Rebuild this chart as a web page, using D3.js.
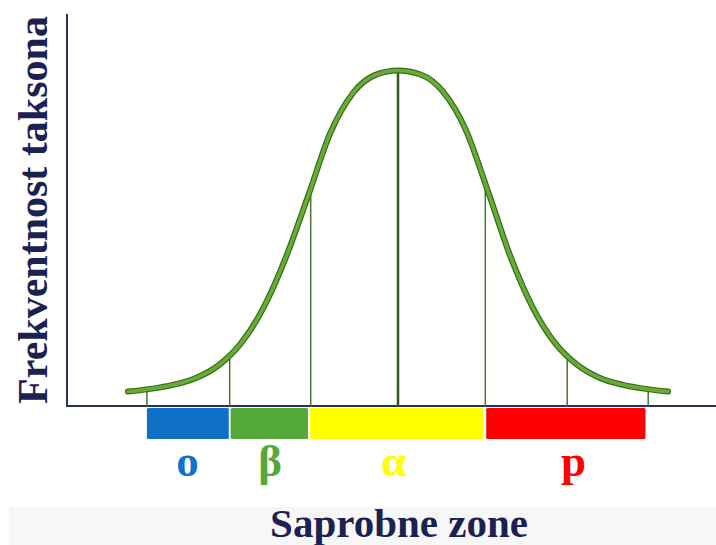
<!DOCTYPE html>
<html>
<head>
<meta charset="utf-8">
<script src="https://cdn.jsdelivr.net/npm/d3@7"></script>
<style>
  body { margin: 0; background: #fff; }
  text { font-family: "Liberation Serif", "Times New Roman", serif; font-weight: bold; }
</style>
</head>
<body>
<div id="chart"></div>
<script>
var W = 716, H = 545;

// curve (position on gradient, relative frequency)
var curveX = [-3.0, -2.75, -2.5, -2.25, -2.0, -1.75, -1.5, -1.25, -1.0, -0.75, -0.5, -0.25, 0, 0.25, 0.5, 0.75, 1.0, 1.25, 1.5, 1.75, 2.0, 2.25, 2.5, 2.75, 3.0];
var curveY = [0.043, 0.051, 0.063, 0.083, 0.120, 0.185, 0.290, 0.440, 0.625, 0.815, 0.933, 0.987, 1.0, 0.988, 0.937, 0.825, 0.640, 0.445, 0.292, 0.186, 0.121, 0.083, 0.063, 0.051, 0.043];

// vertical dividers
var lineX   = [-2.79, -1.87, -0.97, 0, 0.97, 1.88, 2.78];
var lineTop = [0.047, 0.146, 0.645, 1.0, 0.660, 0.146, 0.048];

// saprobic zones
var zoneNames  = ["o", "β", "α", "p"];
var zoneStart  = [-2.79, -1.86, -0.98, 0.98];
var zoneEnd    = [-1.88, -1.00, 0.95, 2.75];
var zoneColors = ["#1170c8", "#55a83a", "#ffff00", "#ff0000"];
var zoneLabelX = [-2.34, -1.42, -0.05, 1.95];

var xTitle = "Saprobne zone";
var yTitle = "Frekventnost taksona";

var x = d3.scaleLinear().domain([-3, 3]).range([128, 668]);
var y = d3.scaleLinear().domain([0, 1]).range([406, 70.5]);

var svg = d3.select("#chart")
  .append("svg")
    .attr("width", W)
    .attr("height", H);

// light band behind the x title
svg.append("rect")
  .attr("x", 9).attr("y", 507)
  .attr("width", W - 9).attr("height", H - 507)
  .attr("fill", "#f7f7f7");

// axes (no ticks)
svg.append("path")
  .attr("d", "M67,14 L67," + y(0) + " L" + W + "," + y(0))
  .attr("fill", "none")
  .attr("stroke", "#283163")
  .attr("stroke-width", 2);

// zone bars
svg.selectAll(".zone")
  .data(zoneNames)
  .enter().append("rect")
    .attr("class", "zone")
    .attr("x", function(d, i) { return x(zoneStart[i]); })
    .attr("y", 408)
    .attr("width", function(d, i) { return x(zoneEnd[i]) - x(zoneStart[i]); })
    .attr("height", 31)
    .attr("rx", 1.5)
    .attr("fill", function(d, i) { return zoneColors[i]; });

svg.selectAll(".zlabel")
  .data(zoneNames)
  .enter().append("text")
    .attr("class", "zlabel")
    .attr("x", function(d, i) { return x(zoneLabelX[i]); })
    .attr("y", 476)
    .attr("text-anchor", "middle")
    .attr("font-size", 45)
    .attr("fill", function(d, i) { return zoneColors[i]; })
    .text(function(d) { return d; });

// vertical dividers up to the curve
svg.selectAll(".vline")
  .data(lineX)
  .enter().append("line")
    .attr("class", "vline")
    .attr("x1", function(d) { return x(d); })
    .attr("x2", function(d) { return x(d); })
    .attr("y1", y(0))
    .attr("y2", function(d, i) { return y(lineTop[i]); })
    .attr("stroke", function(d) { return d === 0 ? "#2f5a1a" : "#47762b"; })
    .attr("stroke-width", function(d) { return d === 0 ? 2.5 : 1.5; });

// bell curve
var pts = curveX.map(function(v, i) { return [v, curveY[i]]; });
var line = d3.line()
  .x(function(d) { return x(d[0]); })
  .y(function(d) { return y(d[1]); })
  .curve(d3.curveMonotoneX);

svg.append("path")
  .datum(pts)
  .attr("fill", "none")
  .attr("stroke", "#3a6a1f")
  .attr("stroke-width", 6)
  .attr("stroke-linecap", "round")
  .attr("d", line);

svg.append("path")
  .datum(pts)
  .attr("fill", "none")
  .attr("stroke", "#65ad33")
  .attr("stroke-width", 3.6)
  .attr("stroke-linecap", "round")
  .attr("d", line);

// titles
svg.append("text")
  .attr("x", 399)
  .attr("y", 537)
  .attr("text-anchor", "middle")
  .attr("font-size", 41)
  .attr("fill", "#1b2150")
  .text(xTitle);

svg.append("text")
  .attr("transform", "translate(47,210) rotate(-90)")
  .attr("text-anchor", "middle")
  .attr("font-size", 42)
  .attr("fill", "#1b2150")
  .text(yTitle);
</script>
</body>
</html>
